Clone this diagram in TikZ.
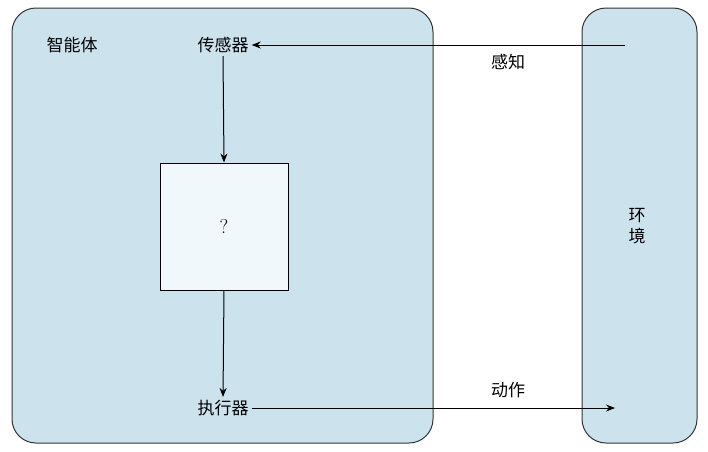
\documentclass[tikz,border=0pt]{standalone}
\usepackage{fontspec}
\newfontfamily\cjk{Noto Sans CJK SC}
\usetikzlibrary{arrows.meta}
\definecolor{panel}{RGB}{204,227,238}
\definecolor{qbox}{RGB}{240,248,252}
\begin{document}
\begin{tikzpicture}[x=1pt,y=-1pt,
  panelbox/.style={draw=black!80,line width=1pt,fill=panel,rounded corners=24pt},
  lbl/.style={font=\cjk\fontsize{17}{21}\selectfont,inner sep=3pt},
  arr/.style={-{Stealth[length=9pt,width=7pt]},line width=1pt}]
\useasboundingbox (0,0) rectangle (708,451);
\draw[panelbox] (12,8) rectangle (433,443);
\draw[panelbox] (582,8) rectangle (697,443);
\node[draw=black,line width=1pt,fill=qbox,minimum width=128pt,minimum height=127pt,font=\fontsize{20}{22}\selectfont] (q) at (224,226.5) {?};
\node[lbl] (agent) at (72,45) {智能体};
\node[lbl] (sensor) at (223,45) {传感器};
\node[lbl] (act) at (223,408) {执行器};
\node[lbl] (perc) at (508,62) {感知};
\node[lbl] (move) at (508,390) {动作};
\node[lbl,align=center] (env) at (637,226) {环\\境};
\coordinate (ein) at (625,45);
\coordinate (eout) at (615,408);
\draw[arr] (ein) -- (sensor.east);
\draw[arr] (sensor.south) -- (q.north);
\draw[arr] (q.south) -- (act.north);
\draw[arr] (act.east) -- (eout);
\end{tikzpicture}
\end{document}
